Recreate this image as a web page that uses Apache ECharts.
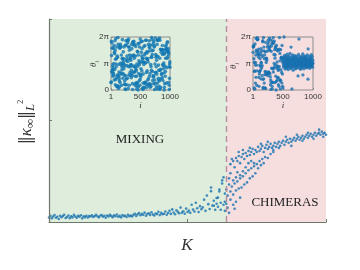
<!DOCTYPE html>
<html><head><meta charset="utf-8">
<script src="https://cdn.jsdelivr.net/npm/echarts@6/dist/echarts.min.js"></script>
<style>html,body{margin:0;padding:0;background:#fff}#c{width:360px;height:270px}</style>
</head><body><div id="c"></div>
<script>
// main panel: norm vs coupling K
const mixingPoints = [
[0.00,0.022],[0.01,0.030],[0.02,0.018],[0.03,0.027],[0.04,0.034],[0.05,0.021],[0.06,0.026],[0.07,0.015],[0.08,0.031],[0.09,0.024],
[0.10,0.029],[0.11,0.036],[0.12,0.020],[0.13,0.025],[0.14,0.032],[0.15,0.019],[0.16,0.028],[0.17,0.023],[0.18,0.035],[0.19,0.027],
[0.20,0.021],[0.21,0.030],[0.22,0.026],[0.23,0.033],[0.24,0.018],[0.25,0.028],[0.26,0.024],[0.27,0.031],[0.28,0.022],[0.29,0.029],
[0.30,0.027],[0.31,0.033],[0.32,0.025],[0.33,0.029],[0.34,0.036],[0.35,0.028],[0.36,0.023],[0.37,0.031],[0.38,0.034],[0.39,0.026],
[0.40,0.030],[0.41,0.021],[0.42,0.032],[0.43,0.027],[0.44,0.035],[0.45,0.029],[0.46,0.024],[0.47,0.033],[0.48,0.028],[0.49,0.037],
[0.50,0.026],[0.51,0.030],[0.52,0.023],[0.53,0.034],[0.54,0.029],[0.55,0.031],[0.56,0.025],[0.57,0.036],[0.58,0.028],[0.59,0.032],
[0.60,0.027],[0.61,0.035],[0.62,0.041],[0.63,0.030],[0.64,0.038],[0.65,0.044],[0.66,0.033],[0.67,0.040],[0.68,0.036],[0.69,0.046],
[0.70,0.031],[0.71,0.039],[0.72,0.043],[0.73,0.035],[0.74,0.048],[0.75,0.037],[0.76,0.032],[0.77,0.042],[0.78,0.039],[0.79,0.050],
[0.80,0.034],[0.81,0.045],[0.82,0.038],[0.83,0.041],[0.84,0.052],[0.85,0.036],[0.86,0.044],[0.87,0.055],[0.88,0.040],[0.89,0.062],
[0.90,0.047],[0.91,0.038],[0.92,0.058],[0.93,0.050],[0.94,0.043],[0.95,0.071],[0.96,0.046],[0.97,0.053],[0.98,0.041],[0.99,0.066],
[1.00,0.049],[1.01,0.057],[1.02,0.045],[1.03,0.085],[1.04,0.061],[1.05,0.052],[1.06,0.095],[1.07,0.068],[1.08,0.049],[1.09,0.078],
[1.10,0.063],[1.11,0.072],[1.12,0.110],[1.13,0.055],[1.14,0.130],[1.15,0.088],[1.16,0.064],[1.17,0.152],[1.18,0.081],[1.19,0.105],
[1.20,0.060],[1.21,0.118],[1.22,0.075],[1.23,0.160],[1.24,0.095],[1.25,0.205],[1.26,0.085],[1.27,0.140],
[1.17,0.170],[1.22,0.120],[1.25,0.190],[1.26,0.220],[1.24,0.060],[1.19,0.080],[1.27,0.100],[1.23,0.150],[1.21,0.090]
];
const chimeraPoints = [
[1.31,0.285],[1.32,0.310],[1.33,0.300],[1.34,0.270],[1.35,0.315],[1.36,0.300],[1.37,0.325],[1.38,0.290],[1.39,0.320],[1.40,0.335],
[1.41,0.310],[1.42,0.340],[1.43,0.325],[1.44,0.350],[1.45,0.330],[1.46,0.345],[1.47,0.360],[1.48,0.335],[1.49,0.355],[1.50,0.345],
[1.51,0.370],[1.52,0.350],[1.53,0.360],[1.54,0.375],[1.55,0.345],[1.56,0.365],[1.57,0.380],[1.58,0.360],[1.59,0.370],[1.60,0.385],
[1.61,0.365],[1.62,0.375],[1.63,0.390],[1.64,0.370],[1.65,0.385],[1.66,0.395],[1.67,0.375],[1.68,0.390],[1.69,0.400],[1.70,0.380],
[1.71,0.395],[1.72,0.405],[1.73,0.390],[1.74,0.410],[1.75,0.395],[1.76,0.405],[1.77,0.415],[1.78,0.400],[1.79,0.410],[1.80,0.420],
[1.81,0.405],[1.82,0.415],[1.83,0.425],[1.84,0.410],[1.85,0.420],[1.86,0.430],[1.87,0.415],[1.88,0.425],[1.89,0.435],[1.90,0.420],
[1.91,0.430],[1.92,0.440],[1.93,0.425],[1.94,0.435],[1.95,0.440],[1.96,0.430],[1.97,0.445],[1.98,0.435],[1.99,0.440],[2.00,0.430],
[1.53,0.385],[1.58,0.395],[1.62,0.355],[1.66,0.365],[1.71,0.420],[1.75,0.375],[1.79,0.430],[1.83,0.400],[1.87,0.440],[1.91,0.410],
[1.95,0.455],[1.98,0.420],[1.45,0.365],[1.40,0.355],[1.37,0.345],
[1.28,0.160],[1.29,0.130],[1.30,0.185],[1.31,0.150],[1.32,0.175],[1.33,0.135],[1.34,0.190],[1.35,0.155],[1.36,0.200],[1.37,0.165],
[1.38,0.215],[1.39,0.170],[1.40,0.225],[1.41,0.185],[1.42,0.240],[1.43,0.195],[1.44,0.255],[1.45,0.215],[1.46,0.265],[1.47,0.225],
[1.48,0.275],[1.49,0.240],[1.50,0.285],[1.51,0.265],[1.52,0.300],[1.53,0.280],[1.54,0.310],[1.55,0.290],[1.56,0.320],[1.58,0.315],
[1.60,0.335],[1.62,0.345],
[1.31,0.240],[1.33,0.205],[1.35,0.220],[1.36,0.245],[1.38,0.230],[1.40,0.250],[1.42,0.270],[1.44,0.290],[1.46,0.300],[1.48,0.290],[1.30,0.215],
[1.28,0.090],[1.29,0.070],[1.31,0.110],[1.33,0.085],[1.35,0.100],[1.38,0.120],[1.27,0.055],[1.30,0.045],[1.34,0.065]
];
const regionSplitK = 1.285;
const kTicks = [0, 1, 2];
const normTicks = [0, 0.5, 1];
const regionLabels = ['MIXING', 'CHIMERAS'];

// insets: phase theta_i (in units of pi) for every third oscillator i = 1, 4, 7, ...
const insetIndexStep = 3;
const insetXTicks = ['1', '500', '1000'];
const insetYTicks = ['0', 'π', '2π'];
const mixingTheta = [
0.28,0.30,1.84,1.30,0.70,1.78,1.58,0.64,0.76,0.92,0.52,0.86,0.76,0.64,1.58,1.00,0.56,1.68,0.38,1.42,
1.38,0.78,1.86,1.50,0.20,1.16,0.40,1.94,0.98,0.88,1.18,0.46,0.14,1.62,1.28,0.12,0.56,1.24,0.16,1.98,
1.72,0.56,0.06,0.96,0.50,0.68,0.42,0.34,0.12,1.58,1.64,0.28,1.60,1.72,1.02,0.64,1.64,0.60,1.32,0.94,
0.18,0.76,0.88,1.20,1.90,1.00,1.16,0.44,0.62,1.44,1.06,1.18,0.80,1.62,0.56,0.96,0.22,0.34,0.90,0.04,
1.68,0.20,0.54,0.02,1.86,1.70,0.42,0.20,1.10,1.18,1.28,0.92,0.44,1.88,1.78,1.08,1.86,0.06,1.62,1.92,
0.88,0.56,1.62,0.18,1.50,1.32,1.18,0.66,0.88,1.22,0.56,0.94,1.12,0.96,0.46,0.74,1.72,1.56,0.62,1.30,
0.54,0.24,0.02,1.80,1.82,0.90,1.28,1.70,1.32,1.84,0.68,1.20,0.68,1.72,0.20,0.90,0.86,0.52,1.28,1.64,
0.26,0.78,0.72,0.14,0.52,0.04,0.98,0.28,0.24,1.46,1.44,0.90,1.74,0.00,1.32,0.12,0.62,1.10,1.76,0.34,
0.96,1.62,1.04,0.18,0.40,1.92,0.56,0.58,0.50,0.80,1.82,1.42,1.06,1.28,0.72,1.56,1.84,1.18,0.06,1.20,
0.02,0.26,0.60,1.06,0.10,0.96,1.64,0.08,1.32,1.04,0.26,1.68,0.28,1.38,1.02,1.88,0.30,0.22,1.20,1.88,
0.66,0.10,1.44,1.40,0.72,1.14,1.18,1.18,0.38,1.06,0.18,0.42,1.72,0.22,1.46,1.62,1.86,0.52,0.22,1.58,
0.62,0.10,0.22,1.70,0.96,0.14,0.88,1.24,0.74,1.98,1.24,1.48,1.90,1.34,0.70,0.36,1.70,1.50,0.54,0.48,
1.78,0.24,0.54,1.86,1.62,1.66,0.02,0.38,0.98,0.24,1.96,0.66,1.34,0.66,1.24,0.88,0.12,1.12,1.28,0.60,
1.72,0.04,0.26,1.88,1.88,1.26,1.90,0.44,0.94,0.74,0.38,0.14,0.04,0.34,1.96,1.20,1.88,0.74,0.04,1.54,
0.10,0.78,0.42,1.42,1.52,0.58,0.62,1.52,1.50,0.46,1.68,1.34,0.96,0.36,0.92,1.52,1.38,0.80,1.02,0.64,
0.00,0.10,1.36,0.24,1.42,0.90,0.52,0.70,1.20,1.64,1.54,1.70,1.54,0.26,0.84,1.50,1.54,1.78,1.20,1.82,
1.46,1.26,1.42,1.56,1.44,0.28,1.36,0.88,0.18,0.02,0.44,0.98,1.06,0.86
];
const chimeraTheta = [
1.42,1.64,1.62,1.64,1.68,1.18,0.08,1.04,0.70,0.72,0.04,1.74,0.94,0.26,1.04,1.32,0.48,1.94,1.50,1.44,
0.94,0.18,0.72,1.98,1.90,1.90,1.48,1.92,1.38,1.34,1.24,1.54,0.48,0.14,1.32,0.60,0.70,0.70,0.94,1.18,
0.90,1.42,0.76,0.42,1.56,1.04,1.02,1.32,0.84,1.48,0.54,0.92,1.26,1.82,1.86,0.40,0.06,0.10,1.98,0.42,
1.62,1.48,0.26,1.18,1.32,0.58,0.08,0.70,1.44,1.80,0.06,0.68,0.58,1.04,1.20,1.18,1.12,0.60,1.46,1.62,
0.64,0.64,1.72,0.54,1.88,0.68,1.80,1.52,0.64,0.66,1.64,1.96,1.60,1.50,0.62,1.90,0.50,0.20,0.38,0.02,
0.30,1.46,1.66,0.82,1.74,1.86,0.14,0.04,0.30,0.80,1.78,0.28,1.98,0.68,1.76,0.82,1.34,1.00,1.84,0.88,
1.52,0.28,1.20,1.32,1.60,1.64,0.52,0.96,0.00,0.32,1.68,1.54,0.82,0.36,1.06,1.48,0.46,0.90,0.88,0.48,
0.74,0.20,1.50,0.78,0.14,1.54,0.88,1.98,0.40,1.38,1.10,0.34,0.04,1.52,0.36,0.76,1.20,1.24,1.22,0.66,
0.26,1.68,1.16,0.60,0.14,1.04,0.08,
1.12,0.94,1.23,0.86,1.05,2.00,1.17,0.91,1.31,0.99,1.08,0.79,1.19,1.02,0.88,1.27,0.96,1.14,0.83,1.21,
1.03,0.92,1.35,1.10,0.85,1.16,0.98,1.25,0.77,1.07,1.13,0.90,1.29,1.01,0.95,1.20,0.87,1.11,1.38,0.97,
1.06,0.81,1.18,1.00,1.62,0.93,1.24,1.09,0.84,0.04,1.15,0.96,1.32,0.89,1.04,1.21,0.75,1.12,0.99,1.26,
0.92,1.08,1.17,0.86,1.02,1.30,0.95,1.13,0.80,1.19,1.05,0.90,1.23,0.98,1.11,0.83,1.28,1.01,0.94,1.15,
1.07,0.87,1.20,0.53,1.03,0.96,1.34,1.10,1.92,0.91,1.16,0.99,0.82,1.25,1.06,0.93,1.13,0.78,1.22,1.00,
1.09,0.88,1.27,0.97,1.14,1.04,0.85,1.19,0.95,1.36,0.57,1.08,0.91,1.24,1.01,0.80,1.17,0.94,1.12,1.29,
0.98,1.06,0.86,1.21,1.03,0.93,1.15,0.89,1.26,1.00,1.10,0.84,1.18,0.96,1.32,1.07,0.90,1.13,0.41,1.55,
1.02,0.87,1.19,1.11,0.94,1.28,0.99,1.05,0.82,1.16,1.08,0.92,1.23,1.01,0.88,1.14,0.97,1.33,1.04,0.91,
1.17,0.95,1.26,1.03,0.86,1.12,1.00
];

const dotColor = '#1672b0';
const axisColor = '#6e776c';
const insetBox = '#8c8c8c';
const greenBg = '#dfeddc';
const pinkBg = '#f6dedf';
const toPairs = arr => arr.map((t, n) => [1 + insetIndexStep * n, t]);

const chart = echarts.init(document.getElementById('c'), null, {renderer: 'canvas'});

function insetX(gi) {
  return {gridIndex: gi, type: 'value', min: 0, max: 1000, interval: 500, z: 6,
    axisLine: {show: false}, splitLine: {show: false},
    axisTick: {inside: true, length: 2, lineStyle: {color: insetBox}},
    axisLabel: {fontSize: 8, fontFamily: 'Liberation Sans', color: '#333', margin: 3,
      formatter: v => insetXTicks[Math.round(v / 500)]}};
}
function insetY(gi) {
  return {gridIndex: gi, type: 'value', min: 0, max: 2, interval: 1, z: 6,
    axisLine: {show: false}, splitLine: {show: false},
    axisTick: {inside: true, length: 2, lineStyle: {color: insetBox}},
    axisLabel: {fontSize: 8, fontFamily: 'Liberation Sans', color: '#333', margin: 2,
      formatter: v => insetYTicks[Math.round(v)]}};
}
const serif = 'Liberation Serif';

chart.setOption({
  animation: false,
  grid: [
    {left: 49, top: 19, right: 34, bottom: 48},
    {left: 111, top: 37, width: 59, height: 53, z: 6, show: true, borderColor: insetBox, borderWidth: 1, backgroundColor: greenBg},
    {left: 253, top: 37, width: 60, height: 53, z: 6, show: true, borderColor: insetBox, borderWidth: 1, backgroundColor: pinkBg}
  ],
  xAxis: [
    {gridIndex: 0, type: 'value', min: kTicks[0], max: kTicks[2], interval: kTicks[1] - kTicks[0], z: 6,
      axisLine: {show: true, onZero: false, lineStyle: {color: axisColor, width: 1.2}},
      axisTick: {inside: true, length: 3, lineStyle: {color: axisColor}},
      axisLabel: {show: false}, splitLine: {show: false}},
    insetX(1), insetX(2)
  ],
  yAxis: [
    {gridIndex: 0, type: 'value', min: normTicks[0], max: normTicks[2], interval: normTicks[1] - normTicks[0], z: 6,
      axisLine: {show: true, onZero: false, lineStyle: {color: axisColor, width: 1.2}},
      axisTick: {inside: true, length: 3, lineStyle: {color: axisColor}},
      axisLabel: {show: false}, splitLine: {show: false}},
    insetY(1), insetY(2)
  ],
  series: [
    {type: 'scatter', xAxisIndex: 0, yAxisIndex: 0, data: [], silent: true, z: 1,
      markArea: {silent: true, data: [
        [{xAxis: kTicks[0], itemStyle: {color: greenBg}}, {xAxis: regionSplitK}],
        [{xAxis: regionSplitK, itemStyle: {color: pinkBg}}, {xAxis: kTicks[2]}]
      ]},
      markLine: {silent: true, symbol: 'none', label: {show: false},
        lineStyle: {type: [6, 4], color: '#b48ea0', width: 1.4},
        data: [{xAxis: regionSplitK}]}
    },
    {type: 'scatter', xAxisIndex: 0, yAxisIndex: 0, data: mixingPoints, symbolSize: 2.6,
      itemStyle: {color: dotColor}},
    {type: 'scatter', xAxisIndex: 0, yAxisIndex: 0, data: chimeraPoints, symbolSize: 2.6,
      itemStyle: {color: dotColor}},
    {type: 'scatter', xAxisIndex: 1, yAxisIndex: 1, data: toPairs(mixingTheta), symbolSize: 3.6, z: 7,
      itemStyle: {color: '#1277b3'}},
    {type: 'scatter', xAxisIndex: 2, yAxisIndex: 2, data: toPairs(chimeraTheta), symbolSize: 3.3, z: 7,
      itemStyle: {color: '#1670b0'}}
  ],
  graphic: [
    {type: 'text', x: 140, y: 140, z: 100, style: {text: regionLabels[0], font: '13px "Liberation Serif"', fill: '#1e1e1e', align: 'center', verticalAlign: 'middle'}},
    {type: 'text', x: 285, y: 203, z: 100, style: {text: regionLabels[1], font: '13px "Liberation Serif"', fill: '#1e1e1e', align: 'center', verticalAlign: 'middle'}},
    {type: 'text', x: 187, y: 246, z: 100, style: {text: 'K', font: 'italic 17px "Liberation Serif"', fill: '#333', align: 'center', verticalAlign: 'middle'}},
    {type: 'text', x: 140.5, y: 106, z: 100, style: {text: 'i', font: 'italic 9px "Liberation Serif"', fill: '#333', align: 'center', verticalAlign: 'middle'}},
    {type: 'text', x: 283, y: 106, z: 100, style: {text: 'i', font: 'italic 9px "Liberation Serif"', fill: '#333', align: 'center', verticalAlign: 'middle'}},
    {type: 'text', x: 94, y: 64, z: 100, rotation: Math.PI / 2, style: {text: '{a|θ}{b|i}', align: 'center', verticalAlign: 'middle',
      rich: {a: {fontFamily: serif, fontStyle: 'italic', fontSize: 9, fill: '#333', lineHeight: 12},
             b: {fontFamily: serif, fontStyle: 'italic', fontSize: 6, fill: '#333', lineHeight: 7, verticalAlign: 'bottom'}}}},
    {type: 'text', x: 234, y: 66, z: 100, rotation: Math.PI / 2, style: {text: '{a|θ}{b|i}', align: 'center', verticalAlign: 'middle',
      rich: {a: {fontFamily: serif, fontStyle: 'italic', fontSize: 9, fill: '#333', lineHeight: 12},
             b: {fontFamily: serif, fontStyle: 'italic', fontSize: 6, fill: '#333', lineHeight: 7, verticalAlign: 'bottom'}}}},
    {type: 'text', x: 27, y: 122, z: 100, rotation: Math.PI / 2, style: {text: '{n|‖}{k|κ}{s|∞}{n|‖}{s|L}{p|2}', align: 'center', verticalAlign: 'middle',
      rich: {n: {fontFamily: 'DejaVu Serif', fontSize: 16, fill: '#333', lineHeight: 20},
             k: {fontFamily: serif, fontStyle: 'italic', fontSize: 17, fill: '#333', lineHeight: 20},
             s: {fontFamily: serif, fontStyle: 'italic', fontSize: 13, fill: '#333', lineHeight: 14, verticalAlign: 'bottom'},
             p: {fontFamily: serif, fontSize: 8, fill: '#333', lineHeight: 14, verticalAlign: 'top'}}}}
  ]
});
</script>
</body></html>
